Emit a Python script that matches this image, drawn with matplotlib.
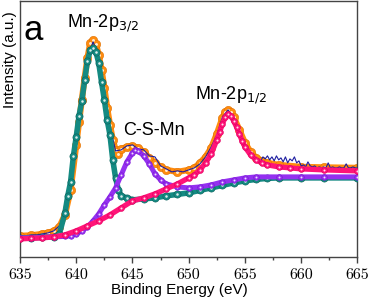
import numpy as np
import matplotlib
matplotlib.use("Agg")
import matplotlib.pyplot as plt
from matplotlib.ticker import MultipleLocator

# values (binding energy in eV, intensity in arbitrary units)
e_orange = [635, 636, 637, 637.5, 638, 638.5, 639, 639.5, 640, 640.25, 640.5, 640.75, 641, 641.25,
            641.5, 641.75, 642, 642.25, 642.5, 642.75, 643, 643.25, 643.5, 643.75, 644, 644.5, 645,
            645.5, 646, 646.5, 647, 647.5, 648, 649, 650, 650.5, 651, 651.5, 652, 652.5, 653, 653.25,
            653.5, 653.75, 654, 654.5, 655, 655.5, 656, 656.5, 657, 658, 660, 662, 665]
v_orange = [20, 20.5, 22, 23, 25, 29, 41, 66, 111, 134, 156, 178, 198, 213,
            216, 212, 201, 186, 168, 148, 131, 116, 106, 102, 107, 109, 110,
            108, 104, 98, 93, 89, 86, 84, 86, 88, 93, 99, 108, 122, 138, 144,
            146, 144, 139, 126, 113, 104, 98, 95, 93, 91, 89, 88.5, 88]

e_teal = [635, 636, 637, 638, 638.5, 639, 639.25, 639.5, 639.75, 640, 640.25, 640.5, 640.75, 641,
          641.25, 641.5, 641.75, 642, 642.25, 642.5, 642.75, 643, 643.25, 643.5, 643.75, 644, 644.5,
          645, 646, 647, 648, 649, 650, 651, 652, 653, 654, 655, 656, 657, 658, 660, 662, 665]
v_teal = [18, 18, 18.5, 19, 22, 43, 60, 74, 100, 119, 140, 155, 176, 195,
          206, 208, 204, 193, 174, 156, 136, 121, 96, 78, 66, 60, 58,
          56, 57, 58, 60, 61.5, 63, 65.5, 68, 70.5, 73, 75, 76.5, 77.5, 78, 78, 78, 78]

e_purple = [635, 636, 637, 638, 639, 639.5, 640, 640.5, 641, 641.5, 642, 642.5, 643, 643.5, 644,
            644.5, 645, 645.25, 645.5, 646, 646.5, 647, 647.5, 648, 649, 650, 651, 652, 653, 654,
            655, 656, 658, 660, 662, 665]
v_purple = [18, 18, 18.5, 19, 19.5, 20, 22, 25, 29, 35, 42, 51, 59, 68, 81,
            94, 103, 106, 105, 100, 92, 82, 76, 72, 69, 68, 69, 71, 74, 76,
            78, 79, 79, 79, 79, 79]

e_pink = [635, 636, 637, 638, 639, 640, 641, 642, 643, 644, 645, 646, 647, 648, 649, 650, 650.5,
          651, 651.5, 652, 652.5, 652.75, 653, 653.25, 653.5, 653.75, 654, 654.25, 654.5, 654.75,
          655, 655.5, 656, 656.5, 657, 658, 659, 660, 662, 665]
v_pink = [17, 17.5, 18, 19, 21, 25, 30, 35, 41, 48, 55, 58, 62, 67, 72, 78, 81,
          86, 93, 102, 116, 124, 132, 139, 142, 140, 135, 129, 122, 115,
          109, 101, 96, 93, 91, 89, 88, 87, 86, 85]

e_raw = [635, 635.5, 636, 636.5, 637, 637.5, 638, 638.5, 639, 639.5, 640, 640.5, 641, 641.5, 642,
         642.5, 643, 643.5, 644, 644.5, 645, 645.5, 646, 646.5, 647, 647.5, 648, 648.5, 649, 649.5,
         650, 650.5, 651, 651.5, 652, 652.5, 653, 653.5, 654, 654.5, 655, 655.5, 656,
         656.2, 656.4, 656.6, 656.8, 657.0, 657.2, 657.4, 657.6, 657.8, 658.0, 658.2, 658.4, 658.6,
         658.8, 659.0, 659.2, 659.4, 659.6, 659.8, 660.0, 660.2, 660.4, 660.6, 660.8, 661.0, 661.2,
         661.4, 661.6, 661.8, 662.0, 662.2, 662.4, 662.6, 662.8, 663.0, 663.2, 663.4, 663.6, 663.8,
         664.0, 664.2, 664.4, 664.6, 664.8, 665.0]
v_raw = [20, 20, 21, 21, 22, 23, 25, 30, 42, 68, 112, 158, 199, 214, 200,
         166, 130, 105, 106, 110, 111, 107, 106, 100, 99, 90, 87, 84, 85, 84,
         86, 88, 92, 99, 109, 121, 139, 146, 138, 125, 112, 104, 97,
         96, 95, 99, 97, 100, 96, 99, 95, 100, 96, 98, 94, 99,
         93, 97, 95, 99, 93, 95, 90, 91, 89, 94, 90, 89, 90,
         88, 89, 88, 89, 88, 93, 88, 89, 88, 88, 89, 88, 88,
         92, 88, 88, 89, 88, 88]

xticks = [635, 640, 645, 650, 655, 660, 665]


def balls(ax, e, v, color, edge, ms, lw, z):
    # thick line + ball markers with a white highlight (origin style)
    ax.plot(e, v, '-', color=color, lw=lw, zorder=z, solid_capstyle='round')
    ax.plot(e, v, 'o', ms=ms, mfc=color, mec=edge, mew=0.4, zorder=z)
    ax.plot(e, v, 'o', ms=ms * 0.35, mfc='white', mec='none', alpha=0.85, zorder=z)


fig = plt.figure(figsize=(3.7, 2.98), dpi=100)
ax = fig.add_axes([0.054, 0.138, 0.912, 0.859])

balls(ax, e_orange, v_orange, '#ff8c0f', '#e07000', 6.0, 4.5, 2)
ax.plot(e_raw, v_raw, '-', color='#1c1ca0', lw=0.8, zorder=3)
balls(ax, e_teal, v_teal, '#148a82', '#0b5f5a', 5.2, 4.0, 4)
balls(ax, e_purple, v_purple, '#9430f0', '#7a18d0', 4.0, 3.6, 5)
balls(ax, e_pink, v_pink, '#ff1478', '#e0005f', 4.2, 3.8, 6)

ax.set_xlim(635, 665)
ax.set_ylim(-1, 255)
ax.set_yticks([])
ax.set_xticks(xticks)
ax.set_xticklabels([str(t) for t in xticks], fontfamily='cmr10', fontsize=11.5)
ax.xaxis.set_minor_locator(MultipleLocator(2.5))
ax.tick_params(axis='x', which='major', length=4, width=1, color='#444444', pad=4.5)
ax.tick_params(axis='x', which='minor', length=2, width=1, color='#444444')
for s in ax.spines.values():
    s.set_color('#444444')
    s.set_linewidth(1.0)

ax.set_xlabel('Binding Energy (eV)', fontfamily='Liberation Sans', fontsize=11, va='top')
ax.xaxis.set_label_coords(0.471, -0.102)
ax.set_ylabel('Intensity (a.u.)', fontfamily='Liberation Sans', fontsize=11)
ax.yaxis.set_label_coords(-0.009, 0.77)

ax.text(635.35, 216, 'a', fontfamily='Liberation Sans', fontsize=25, va='baseline')
ax.text(639.2, 228, 'Mn-2p$_{3/2}$', fontfamily='Liberation Sans', fontsize=13, va='baseline')
ax.text(644.2, 121, 'C-S-Mn', fontfamily='Liberation Sans', fontsize=13, va='baseline')
ax.text(650.6, 156, 'Mn-2p$_{1/2}$', fontfamily='Liberation Sans', fontsize=13, va='baseline')

fig.savefig('out.png', dpi=100)
